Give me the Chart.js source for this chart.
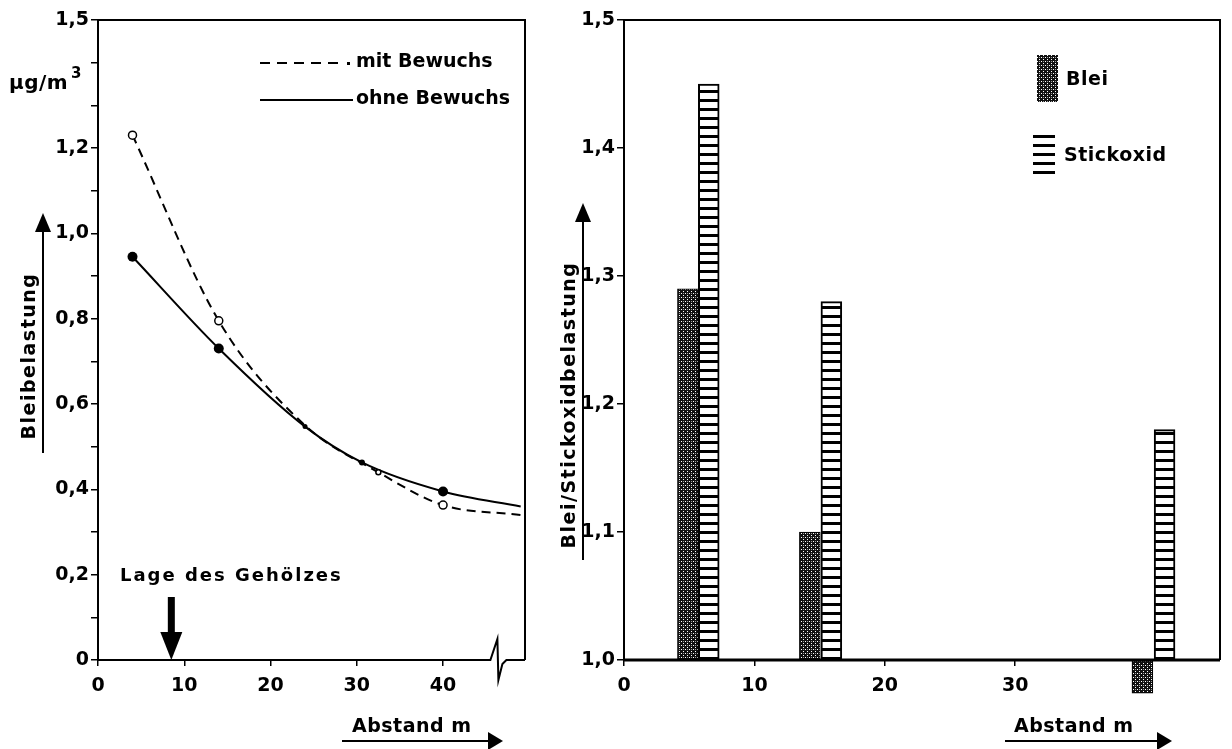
<!DOCTYPE html>
<html>
<head>
<meta charset="utf-8">
<script src="https://cdn.jsdelivr.net/npm/chart.js@4.4.1/dist/chart.umd.min.js"></script>
<style>
  body { margin: 0; background: #fff; }
  #links { position: absolute; left: 0; top: 0; }
  #rechts { position: absolute; left: 540px; top: 0; }
</style>
</head>
<body>
<canvas id="links" width="540" height="749"></canvas>
<canvas id="rechts" width="692" height="749"></canvas>
<script>
/*-------------------------------------------------------------------------*/
// Daten links: Bleibelastung (µg/m3) ueber Abstand (m)
/*-------------------------------------------------------------------------*/
var mitBewuchsX  = [4, 14, 24, 32.5, 40, 49];
var mitBewuchsY  = [1.23, 0.795, 0.55, 0.44, 0.363, 0.34];
var ohneBewuchsX = [4, 14, 24, 30.6, 40, 49];
var ohneBewuchsY = [0.945, 0.73, 0.547, 0.463, 0.395, 0.36];
var linksXTicks = [0, 10, 20, 30, 40];
var linksYBeschriftet = [0, 0.2, 0.4, 0.6, 0.8, 1.0, 1.2, 1.5];
var gehoelzLage = 8.5;
var achsenBruch = 46.3;

/*-------------------------------------------------------------------------*/
// Daten rechts: Blei/Stickoxidbelastung ueber Abstand (m)
/*-------------------------------------------------------------------------*/
var bleiX = [4.9, 14.25, 39.75];
var bleiY = [1.29, 1.10, 0.974];
var stickoxidX = [6.5, 15.9, 41.45];
var stickoxidY = [1.45, 1.28, 1.18];
var rechtsXTicks = [0, 10, 20, 30];
var basisWert = 1.0;

var FONT = "'DejaVu Sans', sans-serif";

function fmt(v) {
	return v === 0 ? '0' : v.toFixed(1).replace('.', ',');
}
function punkte(xs, ys) {
	return xs.map(function (x, i) { return { x: x, y: ys[i] }; });
}

function punktMuster() {
	var c = document.createElement('canvas');
	c.width = 4; c.height = 4;
	var g = c.getContext('2d');
	g.fillStyle = '#111';
	g.fillRect(0, 0, 4, 4);
	g.fillStyle = '#fff';
	g.fillRect(1, 1, 1, 1);
	g.fillRect(3, 3, 1, 1);
	g.fillStyle = '#999';
	g.fillRect(3, 1, 1, 1);
	return g.createPattern(c, 'repeat');
}
function streifenMuster() {
	var c = document.createElement('canvas');
	c.width = 8; c.height = 9;
	var g = c.getContext('2d');
	g.fillStyle = '#fff';
	g.fillRect(0, 0, 8, 9);
	g.fillStyle = '#000';
	g.fillRect(0, 0, 8, 3);
	return g.createPattern(c, 'repeat');
}

// Titel mit Unterstrich und Pfeil (senkrecht)
function yTitel(ctx, text, x, yMitte, linieX, linieUnten, pfeilSpitze) {
	ctx.save();
	ctx.translate(x, yMitte);
	ctx.rotate(-Math.PI / 2);
	ctx.font = 'bold 19px ' + FONT;
	ctx.letterSpacing = '1.5px';
	ctx.textAlign = 'center';
	ctx.textBaseline = 'middle';
	ctx.fillText(text, 0, 0);
	ctx.restore();
	ctx.beginPath();
	ctx.moveTo(linieX, linieUnten);
	ctx.lineTo(linieX, pfeilSpitze + 18);
	ctx.stroke();
	ctx.beginPath();
	ctx.moveTo(linieX - 8, pfeilSpitze + 19);
	ctx.lineTo(linieX + 8, pfeilSpitze + 19);
	ctx.lineTo(linieX, pfeilSpitze);
	ctx.closePath();
	ctx.fill();
}
// Titel mit Unterstrich und Pfeil (waagerecht)
function xTitel(ctx, text, xLinks, y, linieStart, pfeilSpitze) {
	ctx.font = 'bold 19px ' + FONT;
	ctx.letterSpacing = '0.5px';
	ctx.textAlign = 'left';
	ctx.textBaseline = 'middle';
	ctx.fillText(text, xLinks, y);
	ctx.beginPath();
	ctx.moveTo(linieStart, y + 14);
	ctx.lineTo(pfeilSpitze - 14, y + 14);
	ctx.stroke();
	ctx.beginPath();
	ctx.moveTo(pfeilSpitze - 15, y + 5);
	ctx.lineTo(pfeilSpitze - 15, y + 23);
	ctx.lineTo(pfeilSpitze, y + 14);
	ctx.closePath();
	ctx.fill();
}

/*-------------------------------------------------------------------------*/
// Linkes Diagramm
/*-------------------------------------------------------------------------*/
var linksDeko = {
	id: 'linksDeko',
	afterDraw: function (chart) {
		var ctx = chart.ctx, a = chart.chartArea, xs = chart.scales.x;
		ctx.save();
		ctx.strokeStyle = '#000';
		ctx.fillStyle = '#000';
		ctx.lineWidth = 2;
		// Rahmen
		ctx.beginPath();
		ctx.moveTo(a.left, a.top);
		ctx.lineTo(a.right, a.top);
		ctx.lineTo(a.right, a.bottom);
		ctx.stroke();
		// x-Achse mit Bruch
		var bx = xs.getPixelForValue(achsenBruch);
		ctx.beginPath();
		ctx.moveTo(a.left, a.bottom);
		ctx.lineTo(bx - 7, a.bottom);
		ctx.lineTo(bx, a.bottom - 21);
		ctx.lineTo(bx + 1, a.bottom + 20);
		ctx.lineTo(bx + 5, a.bottom + 4);
		ctx.lineTo(bx + 9, a.bottom);
		ctx.lineTo(a.right, a.bottom);
		ctx.stroke();
		// Lage des Gehoelzes
		var gx = xs.getPixelForValue(gehoelzLage);
		ctx.fillRect(gx - 3.5, a.bottom - 63, 7, 36);
		ctx.beginPath();
		ctx.moveTo(gx - 11, a.bottom - 28);
		ctx.lineTo(gx + 11, a.bottom - 28);
		ctx.lineTo(gx, a.bottom);
		ctx.closePath();
		ctx.fill();
		ctx.font = 'bold 18px ' + FONT;
		ctx.letterSpacing = '2px';
		ctx.textAlign = 'left';
		ctx.textBaseline = 'middle';
		ctx.fillText('Lage des Gehölzes', a.left + 22, a.bottom - 84);
		// Legende
		ctx.font = 'bold 19px ' + FONT;
		ctx.letterSpacing = '0px';
		ctx.setLineDash([10, 7]);
		ctx.beginPath();
		ctx.moveTo(260, 63);
		ctx.lineTo(340, 63);
		ctx.stroke();
		ctx.setLineDash([]);
		ctx.fillRect(347, 62, 3, 3);
		ctx.fillText('mit Bewuchs', 356, 62);
		ctx.beginPath();
		ctx.moveTo(260, 100);
		ctx.lineTo(353, 100);
		ctx.stroke();
		ctx.fillText('ohne Bewuchs', 356, 99);
		// Einheit
		ctx.letterSpacing = '0.5px';
		ctx.font = 'bold 20px ' + FONT;
		ctx.fillText('µg/m', 9, 84);
		ctx.font = 'bold 15px ' + FONT;
		ctx.fillText('3', 71, 74);
		// Achsentitel
		yTitel(ctx, 'Bleibelastung', 30, 356, 43, 453, 213);
		xTitel(ctx, 'Abstand m', 352, 727, 342, 503);
		ctx.restore();
	}
};

new Chart(document.getElementById('links'), {
	type: 'line',
	data: {
		datasets: [{
			label: 'mit Bewuchs',
			data: punkte(mitBewuchsX, mitBewuchsY),
			borderColor: '#000',
			borderWidth: 2,
			borderDash: [9, 6],
			cubicInterpolationMode: 'monotone',
			pointRadius: [4, 4, 0, 2.5, 4, 0],
			pointBackgroundColor: '#fff',
			pointBorderColor: '#000',
			pointBorderWidth: 1.5
		}, {
			label: 'ohne Bewuchs',
			data: punkte(ohneBewuchsX, ohneBewuchsY),
			borderColor: '#000',
			borderWidth: 2,
			cubicInterpolationMode: 'monotone',
			pointRadius: [5, 5, 2.5, 3, 5, 0],
			pointBackgroundColor: '#000',
			pointBorderColor: '#000',
			pointBorderWidth: 0
		}]
	},
	options: {
		responsive: false,
		animation: false,
		layout: { padding: { top: 20, right: 15, left: 0, bottom: 0 } },
		plugins: { legend: { display: false }, tooltip: { enabled: false } },
		scales: {
			x: {
				type: 'linear', min: 0, max: 49.5,
				afterBuildTicks: function (s) { s.ticks = linksXTicks.map(function (v) { return { value: v }; }); },
				afterFit: function (s) { s.height = 89; },
				ticks: { color: '#000', font: { family: FONT, size: 19, weight: 'bold' }, padding: 9, maxRotation: 0, autoSkip: false },
				grid: { drawOnChartArea: false, color: '#000', lineWidth: 1.5, tickLength: 6 },
				border: { display: false }
			},
			y: {
				min: 0, max: 1.5,
				ticks: {
					stepSize: 0.1, color: '#000', font: { family: FONT, size: 19, weight: 'bold' }, padding: 2, autoSkip: false,
					callback: function (v) { return linksYBeschriftet.indexOf(Math.round(v * 10) / 10) >= 0 ? fmt(v) : ''; }
				},
				afterFit: function (s) { s.width = 98; },
				grid: { drawOnChartArea: false, color: '#000', lineWidth: 1.5, tickLength: 7 },
				border: { display: true, color: '#000', width: 2 }
			}
		}
	},
	plugins: [linksDeko]
});

/*-------------------------------------------------------------------------*/
// Rechtes Diagramm
/*-------------------------------------------------------------------------*/
var mBlei = punktMuster();
var mStick = streifenMuster();

var rechtsDeko = {
	id: 'rechtsDeko',
	afterDraw: function (chart) {
		var ctx = chart.ctx, a = chart.chartArea;
		ctx.save();
		ctx.strokeStyle = '#000';
		ctx.fillStyle = '#000';
		ctx.lineWidth = 2;
		ctx.beginPath();
		ctx.moveTo(a.left, a.top);
		ctx.lineTo(a.right, a.top);
		ctx.lineTo(a.right, a.bottom);
		ctx.stroke();
		ctx.lineWidth = 3;
		ctx.beginPath();
		ctx.moveTo(a.left, a.bottom);
		ctx.lineTo(a.right, a.bottom);
		ctx.stroke();
		ctx.lineWidth = 2;
		// Legende
		ctx.fillStyle = mBlei;
		ctx.fillRect(497, 55, 21, 47);
		ctx.fillStyle = mStick;
		ctx.fillRect(493, 132, 22, 46);
		ctx.fillStyle = '#000';
		ctx.font = 'bold 19px ' + FONT;
		ctx.letterSpacing = '0.5px';
		ctx.textAlign = 'left';
		ctx.textBaseline = 'middle';
		ctx.fillText('Blei', 526, 80);
		ctx.fillText('Stickoxid', 524, 156);
		yTitel(ctx, 'Blei/Stickoxidbelastung', 30, 405, 43, 560, 203);
		xTitel(ctx, 'Abstand m', 474, 727, 465, 632);
		ctx.restore();
	}
};

new Chart(document.getElementById('rechts'), {
	type: 'bar',
	data: {
		datasets: [{
			label: 'Blei',
			data: punkte(bleiX, bleiY),
			base: basisWert,
			backgroundColor: mBlei,
			borderColor: '#000',
			borderWidth: 1,
			borderSkipped: false,
			clip: false
		}, {
			label: 'Stickoxid',
			data: punkte(stickoxidX, stickoxidY),
			base: basisWert,
			backgroundColor: mStick,
			borderColor: '#000',
			borderWidth: 2,
			borderSkipped: false,
			clip: false
		}]
	},
	options: {
		responsive: false,
		animation: false,
		grouped: false,
		barPercentage: 1,
		categoryPercentage: 1,
		layout: { padding: { top: 20, right: 12, left: 0, bottom: 0 } },
		plugins: { legend: { display: false }, tooltip: { enabled: false } },
		scales: {
			x: {
				type: 'linear', min: 0, max: 45.7, offset: false,
				afterBuildTicks: function (s) { s.ticks = rechtsXTicks.map(function (v) { return { value: v }; }); },
				afterFit: function (s) { s.height = 89; },
				ticks: { color: '#000', font: { family: FONT, size: 19, weight: 'bold' }, padding: 9, maxRotation: 0, autoSkip: false },
				grid: { drawOnChartArea: false, color: '#000', lineWidth: 1.5, tickLength: 6, offset: false },
				border: { display: false }
			},
			y: {
				min: 1.0, max: 1.5,
				ticks: { stepSize: 0.1, color: '#000', font: { family: FONT, size: 19, weight: 'bold' }, padding: 2, callback: function (v) { return fmt(v); } },
				afterFit: function (s) { s.width = 84; },
				grid: { drawOnChartArea: false, color: '#000', lineWidth: 1.5, tickLength: 7 },
				border: { display: true, color: '#000', width: 2 }
			}
		}
	},
	plugins: [rechtsDeko]
});
</script>
</body>
</html>
